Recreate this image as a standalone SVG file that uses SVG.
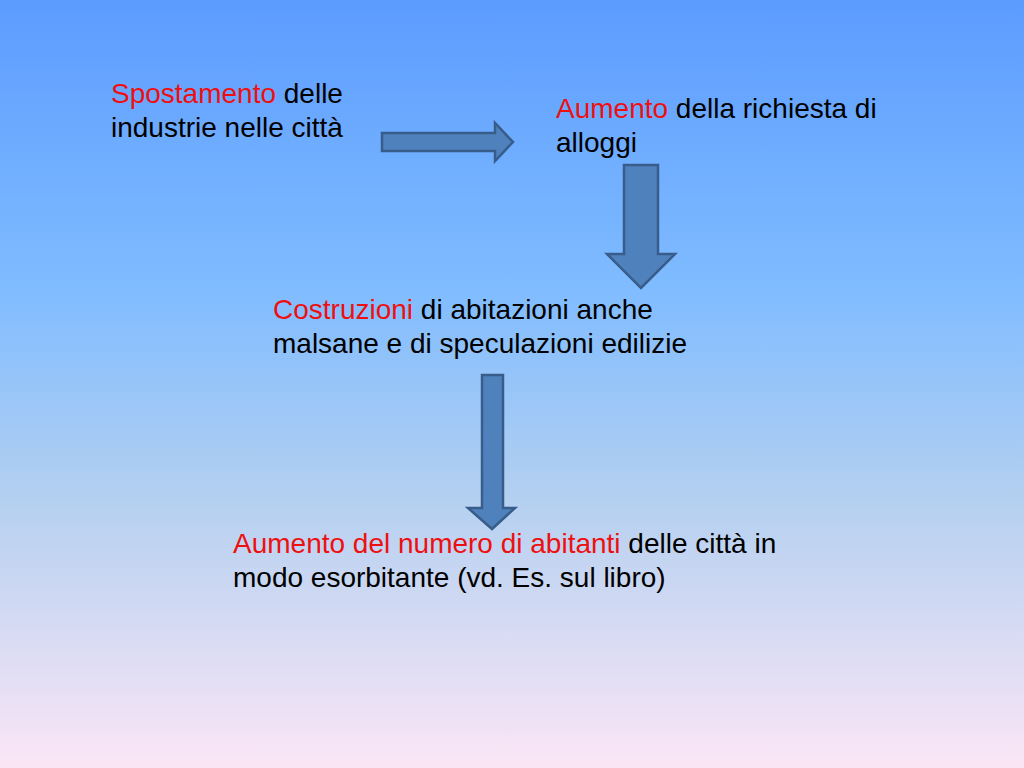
<svg xmlns="http://www.w3.org/2000/svg" width="1024" height="768" viewBox="0 0 1024 768">
<defs>
<linearGradient id="bg" x1="0" y1="0" x2="0" y2="1">
<stop offset="0" stop-color="#5c9cff"/>
<stop offset="0.38" stop-color="#80bcff"/>
<stop offset="0.65" stop-color="#b4d0f0"/>
<stop offset="1" stop-color="#fbe6f6"/>
</linearGradient>
<style>
.t{font-family:"Liberation Sans",Arial,sans-serif;font-size:28px;fill:#000}
.r{fill:#ee1010}
.a{fill:#4f81bd;stroke:#385d8a;stroke-width:2.5;stroke-linejoin:miter}
</style>
</defs>
<rect width="1024" height="768" fill="url(#bg)"/>
<g id="connectors">
<polygon class="a" points="382,133 495,133 495,123 513,142 495,161 495,151 382,151"/>
<polygon class="a" points="624,165 658,165 658,254 675,254 641,288 607,254 624,254"/>
<polygon class="a" points="482,375 503,375 503,508 515,508 492,529 468,508 482,508"/>
</g>
<g id="node1">
<text class="t" x="111" y="103"><tspan class="r">Spostamento</tspan> delle</text>
<text class="t" x="111" y="137">industrie nelle città</text>
</g>
<g id="node2">
<text class="t" x="556" y="118"><tspan class="r">Aumento</tspan> della richiesta di</text>
<text class="t" x="556" y="152">alloggi</text>
</g>
<g id="node3">
<text class="t" x="273" y="319"><tspan class="r">Costruzioni</tspan> di abitazioni anche</text>
<text class="t" x="273" y="353">malsane e di speculazioni edilizie</text>
</g>
<g id="node4">
<text class="t" x="233" y="553"><tspan class="r">Aumento del numero di abitanti</tspan> delle città in</text>
<text class="t" x="233" y="587">modo esorbitante (vd. Es. sul libro)</text>
</g>
</svg>
